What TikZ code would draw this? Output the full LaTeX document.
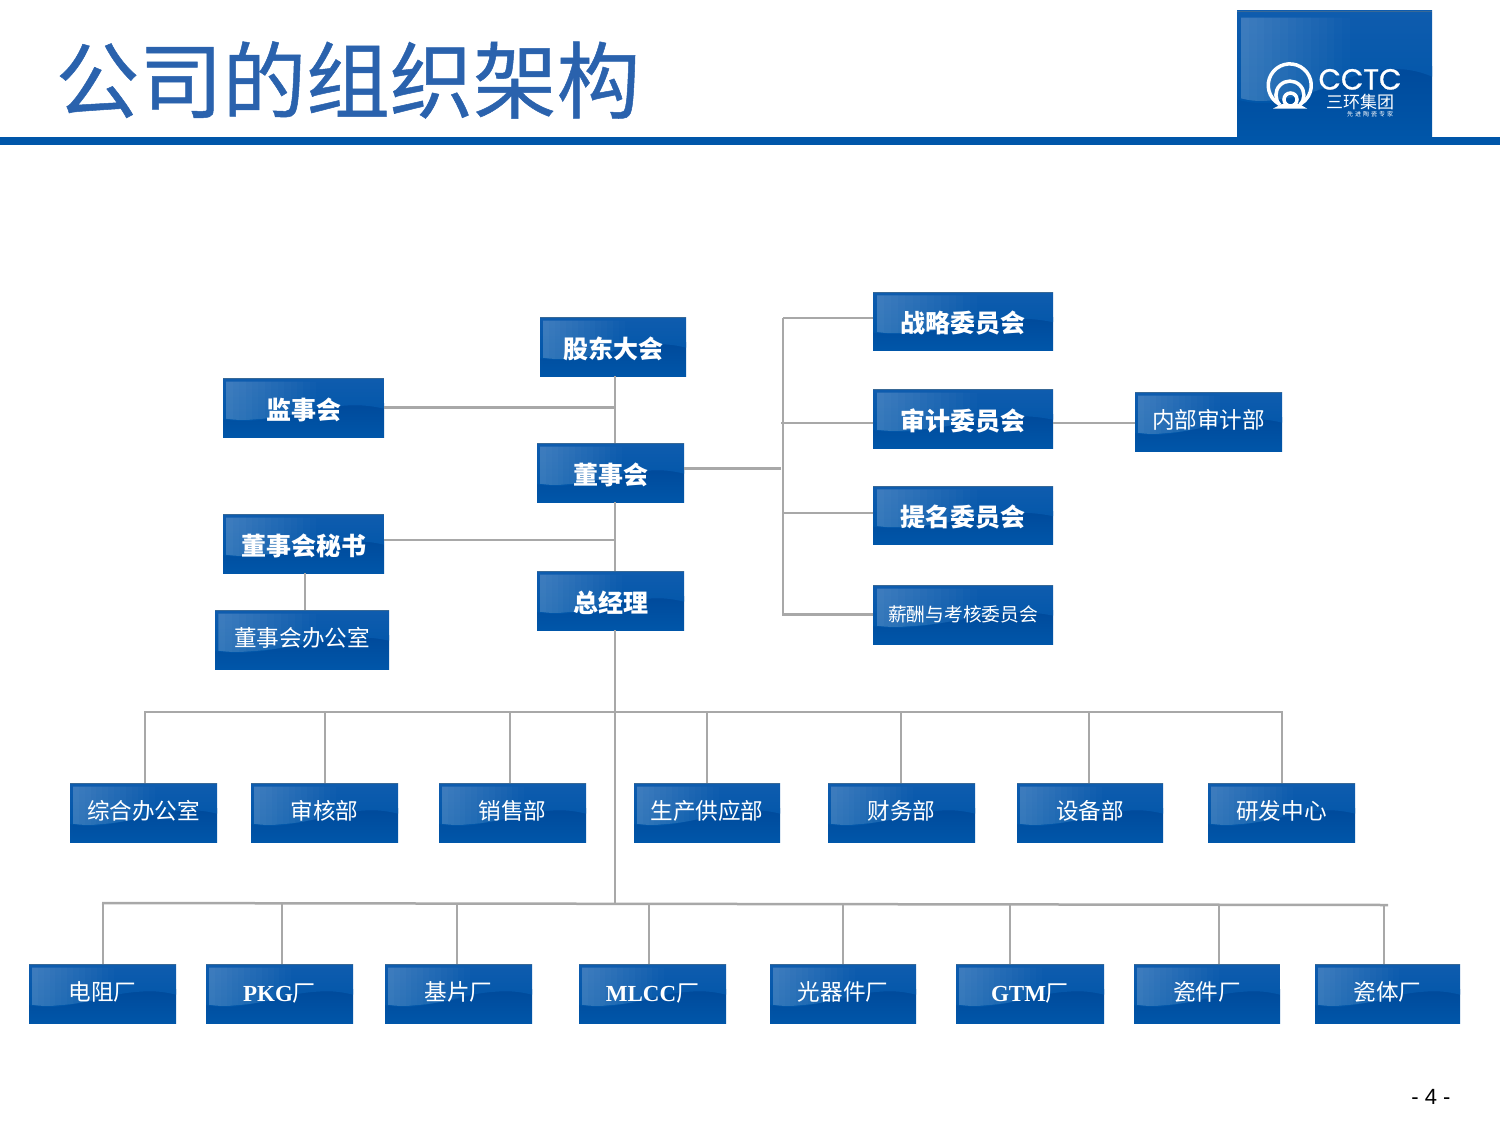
\documentclass[tikz,border=0pt]{standalone}
\usepackage{fontspec}
\setmainfont{Liberation Serif}
\newfontfamily\cjk{Noto Sans CJK SC}
\newfontfamily\titlefont[FakeBold=0.6]{Noto Sans CJK SC}
\newfontfamily\logofont[FakeBold=0.8]{Poppins}
\newfontfamily\pagefont{Liberation Sans}
\usepackage{xcolor}
\usetikzlibrary{calc,backgrounds}
\definecolor{boxblue}{HTML}{0056A9}
\definecolor{boxdark}{HTML}{004A9B}
\definecolor{boxtop}{HTML}{0F5CAE}
\definecolor{linegray}{HTML}{A8A8A8}
\definecolor{titleblue}{HTML}{2A62AD}
\newcommand{\boxart}[1]{
	\begin{pgfonlayer}{background}
	\begin{scope}[shift={(#1.south west)},
		x={($(#1.south east)-(#1.south west)$)},
		y={($(#1.north west)-(#1.south west)$)}]
		\fill [boxblue] (0,0) rectangle (1,1);
		\shade [top color=boxdark,bottom color=boxblue] (0,0) rectangle (1,.56);
		\shade [top color=boxtop,bottom color=boxblue] (0,1) -- (1,1) -- (1,.48) .. controls (.92,.53) and (.85,.55) .. (.75,.53) .. controls (.55,.5) and (.4,.33) .. (.2,.28) .. controls (.13,.26) and (.05,.28) .. (0,.3) -- cycle;
		% highlight, fading to the right in slices
		\begin{scope}
			\clip (.02,.94) -- (.9,.94) -- (.9,.54) .. controls (.6,.5) and (.4,.33) .. (.2,.3) .. controls (.13,.28) and (.07,.29) .. (.02,.31) -- cycle;
			\foreach \i [evaluate=\i as \xa using .02+\i*.04, evaluate=\i as \xb using .06+\i*.04, evaluate=\i as \op using .2*(1-\i/14)] in {0,...,13}
				\fill [white,opacity=\op] (\xa,0) rectangle (\xb,1);
		\end{scope}
		\draw [line width=1.5pt,color=boxblue!55!gray] (0,.99) -- (1,.99);
	\end{scope}
	\end{pgfonlayer}
}
\tikzset{
	bluebox/.style={text=white,inner sep=0pt,outer sep=0pt,minimum height=59pt},
	headbox/.style={bluebox,font=\cjk\bfseries\fontsize{25}{25}\selectfont,text height=25pt,text depth=2pt},
	deptbox/.style={bluebox,font=\cjk\fontsize{22.6}{25}\selectfont,text height=16.6pt,text depth=3.4pt},
	conn/.style={color=linegray,line width=2.5pt},
	logoring/.style={white,line width=3.5pt},
}
\begin{document}
\begin{tikzpicture}[x=1pt,y=-1pt]
	\useasboundingbox (0,0) rectangle (1500,1125);
	% HEADER
	\node [font=\titlefont\fontsize{83.5}{85}\selectfont,color=titleblue,anchor=west,inner sep=0pt] (title) at (55.5,80) {公司的组织架构};
	\fill [boxblue] (0,137) rectangle (1500,145);
	\node [bluebox,minimum width=195pt,minimum height=128pt] (logo) at (1334.5,74) {};
	% LOGO
	\draw [logoring] (1279,104) arc (120:420:21.5);
	\draw [logoring] (1280,105) arc (135:405:14);
	\draw [logoring] (1290.5,99.5) circle (6.5);
	\fill [white] (1282,104) -- (1299,104) -- (1307,108.5) -- (1273,108.5) -- cycle;
	\node [font=\logofont\fontsize{29}{29}\selectfont,text=white,inner sep=0pt,text height=21pt,text depth=0pt] (logoname) at (1360,79) {CCTC};
	\node [font=\cjk\fontsize{17}{17}\selectfont,text=white,inner sep=0pt,text height=13pt,text depth=0pt] (logocn) at (1360,101.5) {三环集团};
	\node [font=\cjk\fontsize{6}{6}\selectfont,text=white,inner sep=0pt] (logosub) at (1370,114) {先\,\,进\,\,陶\,\,瓷\,\,专\,\,家};
	% TOP OF THE CHART
	\node [headbox,minimum width=146pt] (gudong) at (613,346.5) {股东大会};
	\node [headbox,minimum width=147pt] (dongshi) at (610.5,472.5) {董事会};
	\node [headbox,minimum width=147pt] (zongjingli) at (610.5,600.5) {总经理};
	\node [headbox,minimum width=161pt] (jianshi) at (303.5,407.5) {监事会};
	\node [headbox,minimum width=161pt] (mishu) at (303.5,543.5) {董事会秘书};
	\node [deptbox,minimum width=174pt] (bangong) at (302,639.5) {董事会办公室};
	% COMMITTEES
	\node [headbox,minimum width=180pt,minimum height=58pt] (zhanlue) at (963,321) {战略委员会};
	\node [headbox,minimum width=180pt] (shenji) at (963,418.5) {审计委员会};
	\node [headbox,minimum width=180pt,minimum height=58pt] (timing) at (963,515) {提名委员会};
	\node [bluebox,font=\cjk\fontsize{18.75}{20}\selectfont,minimum width=180pt] (xinchou) at (963,614.5) {薪酬与考核委员会};
	\node [deptbox,minimum width=147pt] (neibu) at (1208.5,421.5) {内部审计部};
	% DEPARTMENTS
	\foreach \name/\x/\w/\txt in {zonghe/143.5/147/综合办公室,shenhe/324.5/147/审核部,xiaoshou/512.5/147/销售部,shengchan/707/146/生产供应部,caiwu/901.5/147/财务部,shebei/1090/146/设备部,yanfa/1281.5/147/研发中心}
		\node [deptbox,minimum width=\w pt] (\name) at (\x,812.5) {\txt};
	% FACTORIES
	\foreach \name/\x/\w/\txt in {dianzu/102.5/147/电阻厂,jipian/458.5/147/基片厂,guang/843/146/光器件厂,cijian/1207/146/瓷件厂,citi/1387.5/145/瓷体厂}
		\node [deptbox,minimum width=\w pt] (\name) at (\x,993.5) {\txt};
	\foreach \name/\x/\w/\txt in {pkg/279.5/147/PKG,mlcc/652.5/147/MLCC,gtm/1030/148/GTM}
		\node [bluebox,font=\bfseries\fontsize{23}{25}\selectfont,text height=15pt,text depth=0pt,minimum width=\w pt] (\name) at (\x,993.5) {\txt{\cjk\mdseries 厂}};
	% BOX FACES
	\foreach \name in {logo,gudong,dongshi,zongjingli,jianshi,mishu,bangong,zhanlue,shenji,timing,xinchou,neibu,zonghe,shenhe,xiaoshou,shengchan,caiwu,shebei,yanfa,dianzu,pkg,jipian,mlcc,guang,gtm,cijian,citi}
		\boxart{\name}
	% TRUNK
	\coordinate (trunk) at (615,903);
	\coordinate (bracket) at (783,318);
	\coordinate (bracketend) at (783,616);
	\draw [conn] (gudong.south-|trunk) -- (dongshi.north-|trunk);
	\draw [conn] (dongshi.south-|trunk) -- (zongjingli.north-|trunk);
	\draw [conn] (zongjingli.south-|trunk) -- (trunk);
	\draw [conn] (jianshi.east) -- (jianshi.east-|trunk);
	\draw [conn] ([yshift=3.5pt]mishu.east) -- ([yshift=3.5pt]mishu.east-|trunk);
	\draw [conn] ([xshift=1.5pt]mishu.south) -- ([xshift=3pt]bangong.north);
	% BRACKET
	\draw [conn] (bracket) -- (bracketend);
	\draw [conn] ([yshift=3pt]zhanlue.west) -- ([yshift=3pt]zhanlue.west-|bracket);
	\draw [conn] ([yshift=-4.5pt]shenji.west) -- ([xshift=-2pt,yshift=-4.5pt]shenji.west-|bracket);
	\draw [conn] ([yshift=2pt]timing.west) -- ([yshift=2pt]timing.west-|bracket);
	\draw [conn] (xinchou.west) -- (xinchou.west-|bracket);
	\draw [conn] ([yshift=4pt]dongshi.east) -- ([xshift=-2pt,yshift=4pt]dongshi.east-|bracket);
	\draw [conn] ([yshift=-4.5pt]shenji.east) -- ([yshift=-1.5pt]neibu.west);
	% BUSES
	\draw [conn] (144,712) -- (1283,712);
	\foreach \name/\x in {zonghe/145,shenhe/325,xiaoshou/510,shengchan/707,caiwu/901,shebei/1089,yanfa/1282}
		\draw [conn] (\x,712) -- (\x,712 |- \name.north);
	\draw [conn] (102,903) -- (1388,905);
	\foreach \name/\x/\y in {dianzu/103/903,pkg/282/903,jipian/457/903,mlcc/649/904,guang/843/904,gtm/1010/904,cijian/1219/905,citi/1384/905}
		\draw [conn] (\x,\y) -- (\x,\y |- \name.north);
	\node [font=\pagefont\fontsize{22}{22}\selectfont] (pagenum) at (1431,1097) {- 4 -};
\end{tikzpicture}
\end{document}
